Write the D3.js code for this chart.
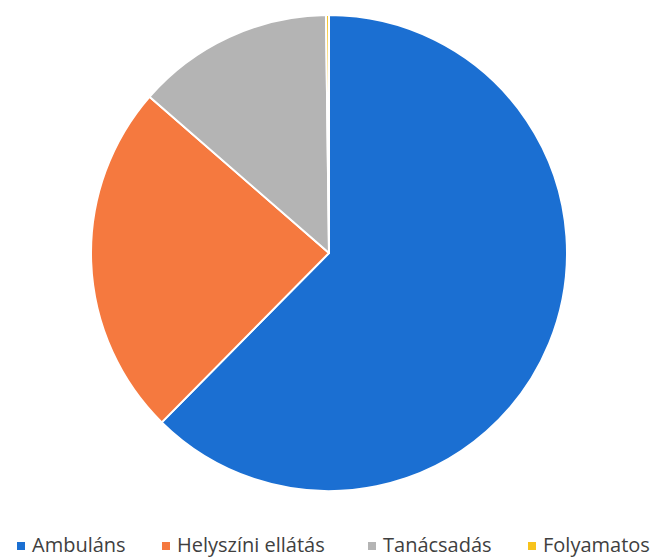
<!DOCTYPE html>
<meta charset="utf-8">
<style>
body { margin:0; background:white; font-family:"Open Sans", sans-serif; }
</style>
<script src="https://d3js.org/d3.v7.min.js"></script>
<div id="chart"></div>
<script>

// data
var categories = ["Ambuláns", "Helyszíni ellátás", "Tanácsadás", "Folyamatos"];
var values = [62.4, 24.0, 13.4, 0.2];
var colors = ["#1b6fd2", "#f5793f", "#b4b4b4", "#f7c31c"];

var width = 657, height = 558;
var cx = 329, cy = 253, radius = 238;

var svg = d3.select("#chart")
  .append("svg")
    .attr("width", width)
    .attr("height", height);

var pie = d3.pie().sort(null).value(function(d) { return d; });
var arc = d3.arc().innerRadius(0).outerRadius(radius);

var g = svg.append("g")
  .attr("transform", "translate(" + cx + "," + cy + ")");

g.selectAll("path")
  .data(pie(values))
  .enter()
  .append("path")
    .attr("d", arc)
    .attr("fill", function(d, i) { return colors[i]; })
    .attr("stroke", "white")
    .attr("stroke-width", 2)
    .attr("stroke-linejoin", "round");

// legend - text start positions
var legendX = [32, 177, 383, 543];
var legend = svg.append("g")
  .attr("transform", "translate(0,552)");

var item = legend.selectAll("g")
  .data(categories)
  .enter()
  .append("g")
    .attr("transform", function(d, i) { return "translate(" + legendX[i] + ",0)"; });

item.append("rect")
  .attr("x", -15)
  .attr("y", -10)
  .attr("width", 8)
  .attr("height", 8)
  .attr("fill", function(d, i) { return colors[i]; });

item.append("text")
  .attr("x", 0)
  .attr("y", 0)
  .attr("font-size", 20)
  .attr("fill", "#3f3f3f")
  .text(function(d) { return d; });

</script>
